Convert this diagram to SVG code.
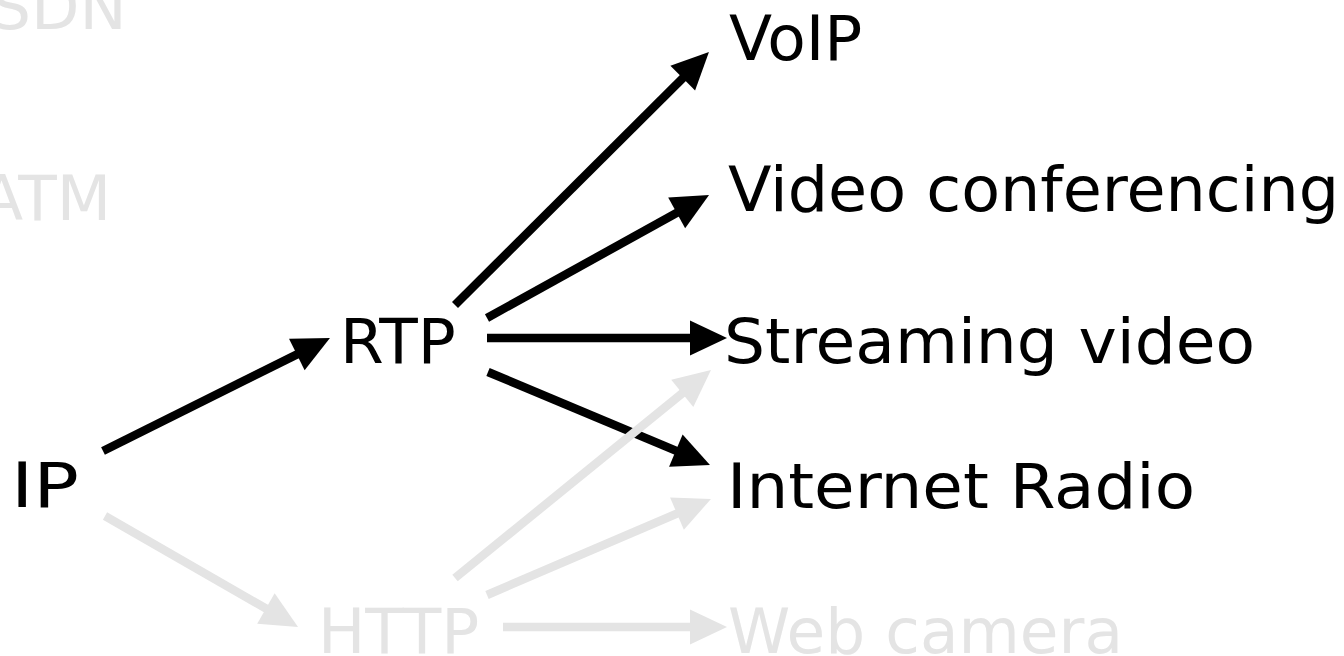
<svg xmlns="http://www.w3.org/2000/svg" width="1344" height="656" viewBox="0 0 1344 656">
  <style>
    text { font-family: "DejaVu Sans", Verdana, sans-serif; font-size: 63px; }
    .on { fill: #000000; }
    .off { fill: #e4e4e4; }
    .edge { fill: none; stroke-width: 8.5; stroke-linecap: butt; }
    .edge.on { stroke: #000000; marker-end: url(#head-on); }
    .edge.off { stroke: #e4e4e4; marker-end: url(#head-off); }
  </style>
  <defs>
    <marker id="head-on" markerUnits="userSpaceOnUse" markerWidth="37" markerHeight="35" refX="7" refY="17.5" orient="auto" overflow="visible">
      <path d="M0,0 L37,17.5 L0,35 Z" fill="#000000"/>
    </marker>
    <marker id="head-off" markerUnits="userSpaceOnUse" markerWidth="37" markerHeight="35" refX="7" refY="17.5" orient="auto" overflow="visible">
      <path d="M0,0 L37,17.5 L0,35 Z" fill="#e4e4e4"/>
    </marker>
  </defs>
  <rect width="1344" height="656" fill="#ffffff"/>

  <!-- protocol stack connections: active path in black, inactive in grey -->
  <g id="connectors">
    <line class="edge on" x1="103" y1="451" x2="303.1" y2="351.4"/>
    <line class="edge on" x1="455" y1="305" x2="687.7" y2="73.2"/>
    <line class="edge on" x1="487" y1="318" x2="682.8" y2="209.5"/>
    <line class="edge on" x1="487" y1="338" x2="697" y2="338"/>
    <line class="edge on" x1="488" y1="372" x2="682.3" y2="453.4"/>
    <line class="edge off" x1="105" y1="516" x2="272" y2="612"/>
    <line class="edge off" x1="455" y1="578" x2="687.7" y2="388.9"/>
    <line class="edge off" x1="487" y1="595" x2="683.4" y2="510.8"/>
    <line class="edge off" x1="503" y1="627" x2="697" y2="627"/>
  </g>

  <g id="node-sdn"><text class="off" x="-9" y="29">SDN</text></g>
  <g id="node-atm"><text class="off" x="-20" y="220">ATM</text></g>
  <g id="node-ip"><text class="on" x="11" y="507" textLength="68" lengthAdjust="spacingAndGlyphs">IP</text></g>
  <g id="node-rtp"><text class="on" x="340" y="363">RTP</text></g>
  <g id="node-http"><text class="off" x="318" y="653">HTTP</text></g>
  <g id="node-voip"><text class="on" x="729" y="60">VoIP</text></g>
  <g id="node-video-conferencing"><text class="on" x="728" y="211" textLength="611" lengthAdjust="spacingAndGlyphs">Video conferencing</text></g>
  <g id="node-streaming-video"><text class="on" x="724" y="363" textLength="531" lengthAdjust="spacingAndGlyphs">Streaming video</text></g>
  <g id="node-internet-radio"><text class="on" x="727" y="508" textLength="468" lengthAdjust="spacingAndGlyphs">Internet Radio</text></g>
  <g id="node-web-camera"><text class="off" x="728" y="653" textLength="395" lengthAdjust="spacingAndGlyphs">Web camera</text></g>
</svg>
